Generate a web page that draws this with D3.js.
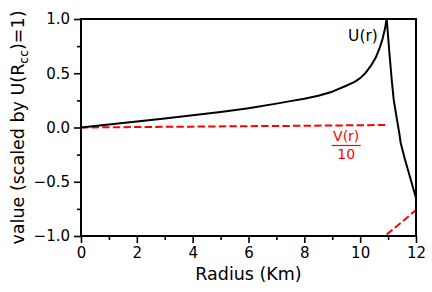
<!DOCTYPE html>
<html><head><meta charset="utf-8">
<script src="https://cdn.jsdelivr.net/npm/d3@7"></script>
<style>
html,body{margin:0;padding:0;background:#fff;}
svg{display:block;font-family:"DejaVu Sans",sans-serif;}
</style></head>
<body><svg id="c" width="432" height="292"></svg>
<script>
// Data
const rU = [0,1,2,3,4,5,6,7,7.5,8,8.5,9,9.5,9.8,10,10.2,10.4,10.55,10.7,10.8,10.88,10.95,11.05,11.13,11.2,11.3,11.4,11.45,11.6,11.8,12];
const U  = [0,0.027,0.055,0.083,0.112,0.143,0.178,0.22,0.243,0.265,0.292,0.33,0.385,0.42,0.455,0.505,0.575,0.64,0.735,0.815,0.9,1.0,0.68,0.44,0.26,0.1,-0.05,-0.14,-0.29,-0.47,-0.65];
const rV1 = [0,2,4,6,8,10,11];
const V1  = [0,0.004,0.008,0.012,0.016,0.021,0.024];
const rV2 = [10.95,11.5,12];
const V2  = [-0.985,-0.87,-0.76];
const xTicks = [0,2,4,6,8,10,12];
const xMinor = [1,3,5,7,9,11];
const yTicks = [-1.0,-0.5,0.0,0.5,1.0];
const yMinor = [-0.75,-0.25,0.25,0.75];

const svg = d3.select("#c");
const L=81,T=19,R=416,B=236;
const x = d3.scaleLinear().domain([0,12]).range([L,R]);
const y = d3.scaleLinear().domain([-1,1]).range([B,T]);

svg.append("defs").append("clipPath").attr("id","clip")
  .append("rect").attr("x",L).attr("y",T).attr("width",R-L).attr("height",B-T);

const g = svg.append("g").attr("clip-path","url(#clip)");
const line = d3.line().x(d=>x(d[0])).y(d=>y(d[1]));
g.append("path").datum(rV1.map((r,i)=>[r,V1[i]])).attr("d",line)
  .attr("fill","none").attr("stroke","#ff0000").attr("stroke-width",2).attr("stroke-dasharray","7.4,3.2");
g.append("path").datum(rV2.map((r,i)=>[r,V2[i]])).attr("d",line)
  .attr("fill","none").attr("stroke","#ff0000").attr("stroke-width",2).attr("stroke-dasharray","7.4,3.2");
g.append("path").datum(rU.map((r,i)=>[r,U[i]])).attr("d",line)
  .attr("fill","none").attr("stroke","#000").attr("stroke-width",2).attr("stroke-linejoin","round");

// axes
const fmt = d=> d3.format(".1f")(d).replace("-","\u2212");
const xAx = svg.append("g").attr("transform",`translate(0,${B})`)
  .call(d3.axisBottom(x).tickValues(xTicks).tickSize(7).tickPadding(4).tickFormat(d3.format("d")));
const xAxm = svg.append("g").attr("transform",`translate(0,${B})`)
  .call(d3.axisBottom(x).tickValues(xMinor).tickSize(4).tickFormat(""));
const yAx = svg.append("g").attr("transform",`translate(${L},0)`)
  .call(d3.axisLeft(y).tickValues(yTicks).tickSize(7).tickPadding(4).tickFormat(fmt));
const yAxm = svg.append("g").attr("transform",`translate(${L},0)`)
  .call(d3.axisLeft(y).tickValues(yMinor).tickSize(4).tickFormat(""));
[xAx,xAxm,yAx,yAxm].forEach(a=>{
  a.select(".domain").remove();
  a.selectAll(".tick line").attr("stroke","#000").attr("stroke-width",1.6);
  a.selectAll("text").attr("font-size",15).attr("fill","#000").attr("font-family","DejaVu Sans");
});
// frame
svg.append("rect").attr("x",L).attr("y",T).attr("width",R-L).attr("height",B-T)
  .attr("fill","none").attr("stroke","#000").attr("stroke-width",2);

// labels
svg.append("text").attr("x",(L+R)/2).attr("y",280).attr("text-anchor","middle")
  .attr("font-size",17.5).text("Radius (Km)");
const yl = svg.append("text").attr("transform",`translate(23.5,${(T+B)/2}) rotate(-90)`)
  .attr("text-anchor","middle").attr("font-size",17.5);
yl.append("tspan").text("value (scaled by U(R");
yl.append("tspan").attr("font-size",12.5).attr("dy",4).text("cc");
yl.append("tspan").attr("dy",-4).text(")=1)");

svg.append("text").attr("x",x(10.1)).attr("y",41).attr("text-anchor","middle")
  .attr("font-size",15.5).text("U(r)");
svg.append("text").attr("x",x(9.5)).attr("y",141).attr("text-anchor","middle")
  .attr("font-size",14).attr("fill","#ff0000").text("V(r)");
svg.append("line").attr("x1",x(9.5)-14.5).attr("x2",x(9.5)+14.5).attr("y1",145.5).attr("y2",145.5)
  .attr("stroke","#ff0000").attr("stroke-width",1.2);
svg.append("text").attr("x",x(9.5)).attr("y",159).attr("text-anchor","middle")
  .attr("font-size",14).attr("fill","#ff0000").text("10");
</script></body></html>
